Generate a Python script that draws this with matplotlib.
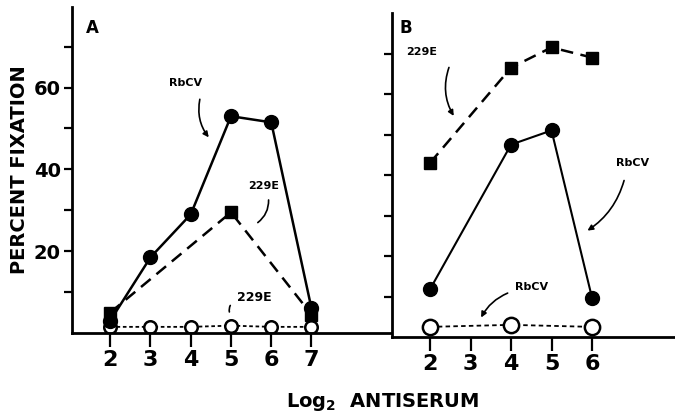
import matplotlib
matplotlib.use("Agg")
import matplotlib.pyplot as plt

# Panel A data
a_x_rbcv = [2, 3, 4, 5, 6, 7]
a_rbcv = [3, 18.5, 29, 53, 51.5, 6]
a_x_229e = [2, 5, 7]
a_229e = [5, 29.5, 4.5]
a_x_open = [2, 3, 4, 5, 6, 7]
a_open = [1.5, 1.5, 1.5, 1.8, 1.5, 1.5]

# Panel B data
b_x_229e = [2, 4, 5, 6]
b_229e = [43, 66.5, 71.5, 69]
b_x_rbcv = [2, 4, 5, 6]
b_rbcv = [11.8, 47.5, 51, 9.7]
b_x_open = [2, 4, 6]
b_open = [2.5, 3, 2.5]

a_xticks = [2, 3, 4, 5, 6, 7]
b_xticks = [2, 3, 4, 5, 6]
yticks = [10, 20, 30, 40, 50, 60, 70]
a_ylabels = ['', '20', '', '40', '', '60', '']

W, H = 675, 420
fig = plt.figure(figsize=(6.75, 4.2), dpi=100)

def rect(x0, y0, x1, y1):
    return [x0 / W, 1 - y1 / H, (x1 - x0) / W, (y1 - y0) / H]

axA = fig.add_axes(rect(72, 7, 392, 333))
axB = fig.add_axes(rect(392, 13, 675, 337))

xtickfont = dict(family='DejaVu Sans', fontweight='bold', fontsize=16)
ytickfont = dict(family='DejaVu Sans', fontweight='bold', fontsize=14)

lw = 1.8
for ax in (axA, axB):
    for s in ('top', 'right'):
        ax.spines[s].set_visible(False)
    for s in ('left', 'bottom'):
        ax.spines[s].set_linewidth(2.0)
    ax.tick_params(axis='y', direction='out', length=6, width=1.6, pad=2)
    ax.tick_params(axis='x', direction='out', length=10, width=1.6, pad=2)

# Panel A
axA.set_xlim(1.05, 9.0)
axA.set_ylim(0, 79.7)
axA.plot(a_x_open, a_open, linestyle=(0, (2, 1.5)), color='black', lw=1.3,
         marker='o', markersize=9, markerfacecolor='white',
         markeredgecolor='black', markeredgewidth=1.8, zorder=2)
axA.plot(a_x_229e, a_229e, linestyle=(0, (5, 3)), color='black', lw=lw,
         marker='s', markersize=8, zorder=3)
axA.plot(a_x_rbcv, a_rbcv, linestyle='-', color='black', lw=lw,
         marker='o', markersize=10, zorder=4)
axA.set_xticks(a_xticks)
axA.set_xticklabels([str(v) for v in a_xticks], **xtickfont)
axA.set_yticks(yticks)
axA.set_yticklabels(a_ylabels, **ytickfont)

# Panel B
axB.set_xlim(1.06, 8.05)
axB.set_ylim(0, 80)
axB.plot(b_x_open, b_open, linestyle=(0, (2.5, 1.8)), color='black', lw=1.3,
         marker='o', markersize=11, markerfacecolor='white',
         markeredgecolor='black', markeredgewidth=1.8, zorder=2)
axB.plot(b_x_229e, b_229e, linestyle=(0, (5, 3)), color='black', lw=lw,
         marker='s', markersize=8, zorder=3)
axB.plot(b_x_rbcv, b_rbcv, linestyle='-', color='black', lw=1.5,
         marker='o', markersize=10, zorder=4)
axB.set_xticks(b_xticks)
axB.set_xticklabels([str(v) for v in b_xticks], **xtickfont)
axB.set_yticks(yticks)
axB.set_yticklabels([])

# Annotations
akw = dict(fontsize=8, fontweight='bold', ha='center', va='center')
axA.text(1.55, 74.6, 'A', fontsize=12, fontweight='bold', ha='center', va='center')
axA.text(3.87, 61, 'RbCV', **akw)
axA.annotate('', xy=(4.49, 47.3), xytext=(4.24, 57.8),
             arrowprops=dict(arrowstyle='-|>', color='black', lw=1.2,
                             mutation_scale=8, connectionstyle='arc3,rad=0.25'))
axA.text(5.8, 35.9, '229E', **akw)
axA.annotate('', xy=(5.61, 26.6), xytext=(5.93, 33.2),
             arrowprops=dict(arrowstyle='-', color='black', lw=1.2,
                             connectionstyle='arc3,rad=-0.3'))
axA.text(5.58, 8.8, '229E', fontsize=9, fontweight='bold', ha='center', va='center')
axA.annotate('', xy=(4.98, 4.5), xytext=(5.02, 7.3),
             arrowprops=dict(arrowstyle='-', color='black', lw=1.2,
                             connectionstyle='arc3,rad=0.3'))

axB.text(1.41, 76.3, 'B', fontsize=12, fontweight='bold', ha='center', va='center')
axB.text(1.78, 70.4, '229E', **akw)
axB.annotate('', xy=(2.62, 54), xytext=(2.49, 67.2),
             arrowprops=dict(arrowstyle='-|>', color='black', lw=1.2,
                             mutation_scale=8, connectionstyle='arc3,rad=0.25'))
axB.text(6.99, 43, 'RbCV', **akw)
axB.annotate('', xy=(5.83, 25.9), xytext=(6.81, 39.3),
             arrowprops=dict(arrowstyle='-|>', color='black', lw=1.2,
                             mutation_scale=8, connectionstyle='arc3,rad=-0.2'))
axB.text(4.5, 12.3, 'RbCV', **akw)
axB.annotate('', xy=(3.23, 4.2), xytext=(3.98, 11.1),
             arrowprops=dict(arrowstyle='-|>', color='black', lw=1.2,
                             mutation_scale=8, connectionstyle='arc3,rad=0.2'))

# Axis labels
fig.text(20 / W, 1 - 170 / H, 'PERCENT FIXATION', rotation=90, fontsize=14,
         fontweight='bold', ha='center', va='center')
fig.text(383 / W, 1 - 402 / H, r'Log$_{\mathbf{2}}$  ANTISERUM', fontsize=14,
         fontweight='bold', ha='center', va='center')

fig.savefig('out.png', dpi=100)
